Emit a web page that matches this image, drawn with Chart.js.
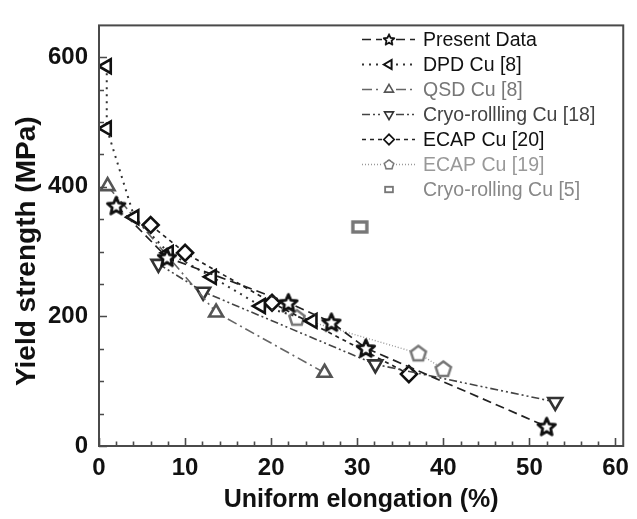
<!DOCTYPE html>
<html>
<head>
<meta charset="utf-8">
<script src="https://cdn.jsdelivr.net/npm/chart.js@4/dist/chart.umd.min.js"></script>
<style>
  html, body { margin: 0; padding: 0; background: #fff; }
</style>
</head>
<body>
<canvas id="chart" width="637" height="519"></canvas>
<script>
// values (elongation %, yield strength MPa)
const presentX = [2.0, 7.9, 22.0, 27.0, 31.0, 52.0];
const presentY = [371, 291, 221, 191, 151, 30];
const dpdX = [0.9, 0.9, 4.1, 8.1, 13.1, 18.8, 24.8];
const dpdY = [586, 490, 353, 298, 261, 216, 193];
const qsdX = [1.0, 13.6, 26.2];
const qsdY = [401, 206, 113];
const cryoX = [6.9, 12.1, 32.1, 53.0];
const cryoY = [281, 238, 126, 68];
const ecap20X = [6.0, 10.0, 20.1, 36.0];
const ecap20Y = [341, 298, 221, 111];
const ecap19X = [23.0, 37.1, 40.0];
const ecap19Y = [198, 143, 119];
const cryo5X = [30.3];
const cryo5Y = [338];

const seriesNames = ['Present Data', 'DPD Cu [8]', 'QSD Cu [8]', 'Cryo-rollling Cu [18]',
                     'ECAP Cu [20]', 'ECAP Cu [19]', 'Cryo-rolling Cu [5]'];
const xTicks = [0, 10, 20, 30, 40, 50, 60];
const yTicks = [0, 200, 400, 600];

const FONT = '"Liberation Sans", Arial, sans-serif';

function pts(xs, ys) {
  return xs.map((x, i) => ({ x: x, y: ys[i] }));
}

function makeMarker(w, h, draw) {
  const c = document.createElement('canvas');
  c.width = w;
  c.height = h;
  draw(c.getContext('2d'));
  return c;
}

const starImg = makeMarker(22, 22, g => {
  g.beginPath();
  for (let i = 0; i < 10; i++) {
    const r = i % 2 ? 4.2 : 9.2;
    const a = -Math.PI / 2 + i * Math.PI / 5;
    const px = 11 + r * Math.cos(a), py = 11.8 + r * Math.sin(a);
    if (i === 0) g.moveTo(px, py); else g.lineTo(px, py);
  }
  g.closePath();
  g.fillStyle = '#fff';
  g.fill();
  g.lineWidth = 2.8;
  g.lineJoin = 'round';
  g.strokeStyle = '#111';
  g.stroke();
});

const pentImg = makeMarker(20, 20, g => {
  g.beginPath();
  for (let i = 0; i < 5; i++) {
    const a = -Math.PI / 2 + i * 2 * Math.PI / 5;
    const px = 10 + 8 * Math.cos(a), py = 10.6 + 8 * Math.sin(a);
    if (i === 0) g.moveTo(px, py); else g.lineTo(px, py);
  }
  g.closePath();
  g.fillStyle = '#fff';
  g.fill();
  g.lineWidth = 2.5;
  g.strokeStyle = '#777';
  g.stroke();
});

const squareImg = makeMarker(20, 16, g => {
  g.fillStyle = '#fff';
  g.fillRect(3, 3, 14, 10);
  g.lineWidth = 3.4;
  g.strokeStyle = '#777';
  g.strokeRect(3, 3, 14, 10);
});

const datasets = [
  { label: seriesNames[0], data: pts(presentX, presentY), borderColor: '#222', borderDash: [9, 5], borderWidth: 1.7,
    pointStyle: starImg, pointRadius: 8, textColor: '#111' },
  { label: seriesNames[1], data: pts(dpdX, dpdY), borderColor: '#333', borderDash: [2, 5], borderWidth: 2,
    pointStyle: 'triangle', pointRotation: -90, pointRadius: 8, pointBorderColor: '#111', textColor: '#111' },
  { label: seriesNames[2], data: pts(qsdX, qsdY), borderColor: '#666', borderDash: [10, 4, 2, 4], borderWidth: 1.6,
    pointStyle: 'triangle', pointRadius: 8, pointBorderColor: '#555', textColor: '#777' },
  { label: seriesNames[3], data: pts(cryoX, cryoY), borderColor: '#444', borderDash: [8, 3, 2, 3, 2, 3], borderWidth: 1.6,
    pointStyle: 'triangle', pointRotation: 180, pointRadius: 8, pointBorderColor: '#333', textColor: '#444' },
  { label: seriesNames[4], data: pts(ecap20X, ecap20Y), borderColor: '#222', borderDash: [4, 4], borderWidth: 1.7,
    pointStyle: 'rectRot', pointRadius: 8, pointBorderColor: '#111', textColor: '#111' },
  { label: seriesNames[5], data: pts(ecap19X, ecap19Y), borderColor: '#999', borderDash: [1, 2], borderWidth: 1.4,
    pointStyle: pentImg, pointRadius: 8, textColor: '#999' },
  { label: seriesNames[6], data: pts(cryo5X, cryo5Y), borderColor: '#777', showLine: false,
    pointStyle: squareImg, pointRadius: 8, textColor: '#888' }
];

datasets.forEach(d => {
  if (d.showLine === undefined) d.showLine = true;
  d.fill = false;
  d.tension = 0;
  d.pointBackgroundColor = '#fff';
  d.pointBorderWidth = 2.6;
  if (!d.pointBorderColor) d.pointBorderColor = d.borderColor;
});

// box, inward ticks and legend
const framePlugin = {
  id: 'frame',
  afterDatasetsDraw(chart) {
    const ctx = chart.ctx;
    const a = chart.chartArea;
    const xs = chart.scales.x, ys = chart.scales.y;
    ctx.save();
    ctx.strokeStyle = '#4a4a4a';
    ctx.lineWidth = 2;
    ctx.strokeRect(a.left, a.top, a.right - a.left, a.bottom - a.top);
    ctx.lineWidth = 1.6;
    ctx.beginPath();
    for (let v = 0; v <= 60; v += 2) {
      const px = Math.round(xs.getPixelForValue(v)) + 0.5;
      const len = v % 10 === 0 ? 8 : 4.5;
      ctx.moveTo(px, a.bottom);
      ctx.lineTo(px, a.bottom - len);
    }
    for (let v = 0; v <= 600; v += 50) {
      const py = Math.round(ys.getPixelForValue(v)) + 0.5;
      const len = v % 200 === 0 ? 8 : 5;
      ctx.moveTo(a.left, py);
      ctx.lineTo(a.left + len, py);
    }
    ctx.stroke();
    ctx.restore();
  },
  afterDraw(chart) {
    const ctx = chart.ctx;
    const x0 = 362, x1 = 415, xm = 389, tx = 423;
    ctx.save();
    ctx.font = '19.5px ' + FONT;
    ctx.textBaseline = 'middle';
    chart.data.datasets.forEach((d, i) => {
      const y = 39.5 + i * 25;
      if (d.showLine) {
        ctx.strokeStyle = d.borderColor;
        ctx.lineWidth = d.borderWidth;
        ctx.setLineDash(d.borderDash);
        ctx.beginPath();
        ctx.moveTo(x0, y);
        ctx.lineTo(xm - 7, y);
        ctx.moveTo(xm + 7, y);
        ctx.lineTo(x1, y);
        ctx.stroke();
        ctx.setLineDash([]);
      }
      if (d.pointStyle instanceof HTMLCanvasElement) {
        const img = d.pointStyle;
        const s = d.showLine ? 0.62 : 0.55;
        ctx.drawImage(img, xm - img.width * s / 2, y - img.height * s / 2, img.width * s, img.height * s);
      } else {
        ctx.fillStyle = '#fff';
        ctx.strokeStyle = d.pointBorderColor;
        Chart.helpers.drawPoint(ctx, {
          pointStyle: d.pointStyle, rotation: d.pointRotation || 0,
          radius: 5.2, borderWidth: 2.2
        }, xm, y);
      }
      ctx.fillStyle = d.textColor;
      ctx.fillText(d.label, tx, y + 1);
    });
    ctx.restore();
  }
};

new Chart(document.getElementById('chart'), {
  type: 'scatter',
  data: { datasets: datasets },
  options: {
    responsive: false,
    animation: false,
    devicePixelRatio: 1,
    layout: { padding: { top: 13, right: 6, left: 0, bottom: 0 } },
    plugins: { legend: { display: false }, tooltip: { enabled: false } },
    scales: {
      x: {
        type: 'linear', min: 0, max: 60.9,
        afterBuildTicks: s => { s.ticks = xTicks.map(v => ({ value: v })); },
        afterFit: s => { s.height = 73; },
        grid: { display: false, drawTicks: false },
        border: { display: false },
        ticks: { color: '#111', padding: 8, maxRotation: 0,
                 font: { family: FONT, size: 24, weight: 'bold' } },
        title: { display: true, text: 'Uniform elongation (%)', color: '#111',
                 padding: { top: 0, bottom: 4 },
                 font: { family: FONT, size: 25, weight: 'bold' } }
      },
      y: {
        type: 'linear', min: 0, max: 649,
        afterBuildTicks: s => { s.ticks = yTicks.map(v => ({ value: v })); },
        afterFit: s => { s.width = 99; },
        grid: { display: false, drawTicks: false },
        border: { display: false },
        ticks: { color: '#111', padding: 11,
                 font: { family: FONT, size: 24, weight: 'bold' } },
        title: { display: true, text: 'Yield strength (MPa)    ', color: '#111',
                 padding: { top: 10, bottom: 0 },
                 font: { family: FONT, size: 28, weight: 'bold' } }
      }
    }
  },
  plugins: [framePlugin]
});
</script>
</body>
</html>
